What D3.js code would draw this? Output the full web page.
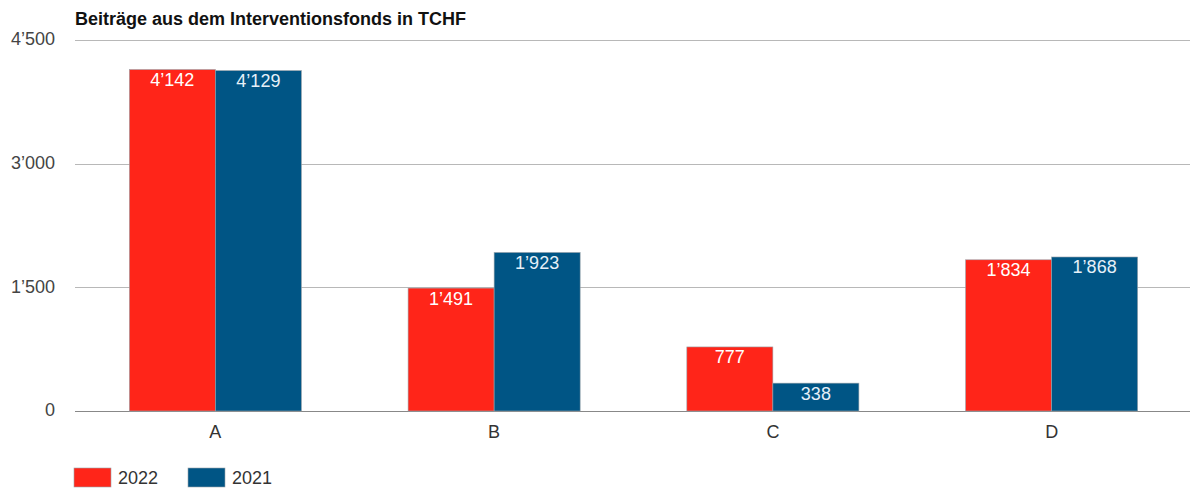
<!DOCTYPE html>
<html>
<head>
<meta charset="utf-8">
<script src="https://cdn.jsdelivr.net/npm/d3@7"></script>
<style>
  body { margin: 0; background: #fff; }
  text { font-family: "Liberation Sans", Arial, sans-serif; }
</style>
</head>
<body>
<div id="chart"></div>
<script>
// data
var categories = ["A", "B", "C", "D"];
var seriesNames = ["2022", "2021"];
var values2022 = [4142, 1491, 777, 1834];
var values2021 = [4129, 1923, 338, 1868];
var tickValues = [0, 1500, 3000, 4500];
var colors = ["#ff2519", "#005585"];

var W = 1190, H = 491;
var margin = {top: 40, right: 0, bottom: 80, left: 75};
var width = W - margin.left - margin.right,
    height = H - margin.top - margin.bottom;

var fmt = d => d3.format(",")(d).replace(/,/g, "\u2019");

var svg = d3.select("#chart").append("svg")
  .attr("width", W).attr("height", H);

svg.append("text")
  .attr("x", 75).attr("y", 25)
  .attr("font-size", 18).attr("font-weight", "bold")
  .attr("fill", "#111")
  .text("Beiträge aus dem Interventionsfonds in TCHF");

var g = svg.append("g")
  .attr("transform", "translate(" + margin.left + "," + margin.top + ")");

var x0 = d3.scaleBand().domain(categories).range([1, width + 1]).padding(0);
var x1 = d3.scaleBand().domain(seriesNames).range([0, x0.bandwidth()])
  .paddingInner(0).paddingOuter(0.62);
var y = d3.scaleLinear().domain([0, 4500]).range([height, 0]);

// grid
g.selectAll(".grid").data(tickValues).enter().append("line")
  .attr("x1", 0).attr("x2", width)
  .attr("y1", d => Math.round(y(d)) + 0.5).attr("y2", d => Math.round(y(d)) + 0.5)
  .attr("stroke", d => d === 0 ? "#888" : "#b8b8b8")
  .attr("stroke-width", 1);

// y labels
g.selectAll(".ylab").data(tickValues).enter().append("text")
  .attr("x", -20).attr("y", d => y(d)).attr("dy", "0.3em")
  .attr("text-anchor", "end").attr("font-size", 18).attr("fill", "#444")
  .text(fmt);

// x labels
g.selectAll(".xlab").data(categories).enter().append("text")
  .attr("x", d => x0(d) + x0.bandwidth() / 2).attr("y", height + 27)
  .attr("text-anchor", "middle").attr("font-size", 18).attr("fill", "#333")
  .text(d => d);

var data = [];
categories.forEach((c, i) => {
  data.push({cat: c, s: "2022", v: values2022[i], col: colors[0]});
  data.push({cat: c, s: "2021", v: values2021[i], col: colors[1]});
});

g.selectAll(".bar").data(data).enter().append("rect")
  .attr("x", d => x0(d.cat) + x1(d.s))
  .attr("y", d => y(d.v))
  .attr("width", x1.bandwidth())
  .attr("height", d => height - y(d.v))
  .attr("fill", d => d.col)
  .attr("stroke", "#9aa3aa").attr("stroke-width", 0.6);

g.selectAll(".val").data(data).enter().append("text")
  .attr("x", d => x0(d.cat) + x1(d.s) + x1.bandwidth() / 2)
  .attr("y", d => y(d.v) + 16.5)
  .attr("text-anchor", "middle").attr("font-size", 18)
  .attr("fill", d => d.s === "2022" ? "#fff" : "#e6f0f8")
  .text(d => fmt(d.v));

// legend
var leg = svg.append("g").attr("transform", "translate(74,468)");
seriesNames.forEach((s, i) => {
  var lx = i * 114;
  leg.append("rect").attr("x", lx).attr("y", 0).attr("width", 37).attr("height", 19)
    .attr("fill", colors[i]).attr("stroke", "#9aa3aa").attr("stroke-width", 0.6);
  leg.append("text").attr("x", lx + 44).attr("y", 10).attr("dy", "0.35em")
    .attr("font-size", 18).attr("fill", "#333").text(s);
});
</script>
</body>
</html>
